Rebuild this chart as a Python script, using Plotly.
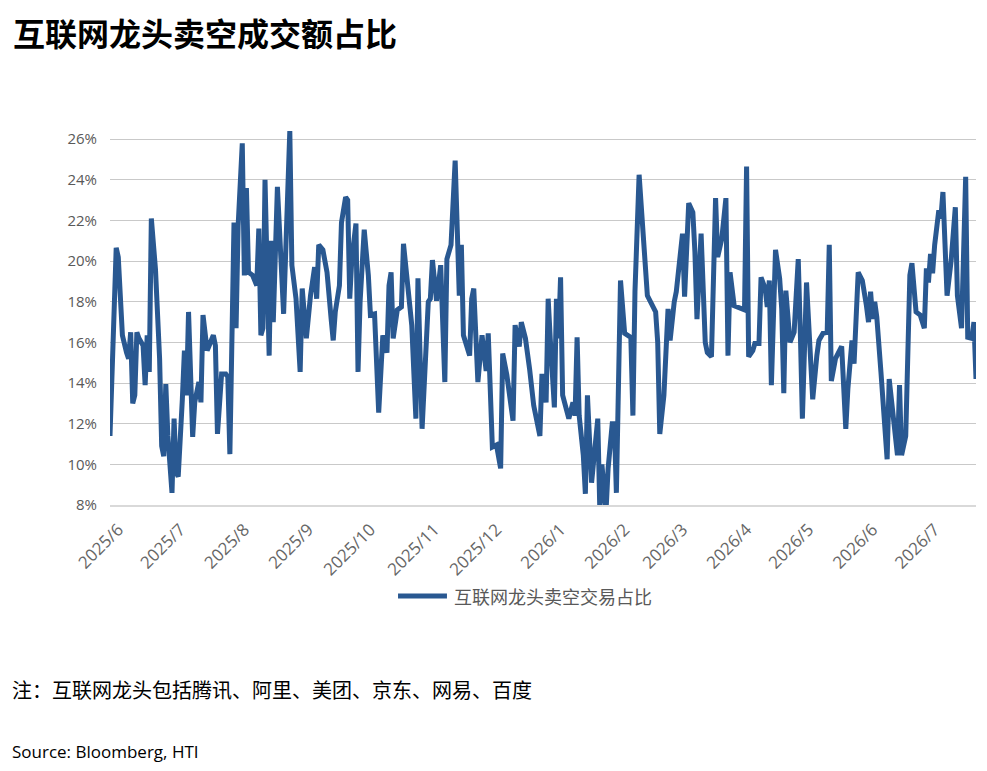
import pandas as pd
import plotly.graph_objects as go

# 数据：距 2025-06-01 的天数 与 卖空交易占比(%)
start_date = "2025-06-01"
days_from_start = [
    -4, -1, 0, 2, 4, 5, 6, 7, 8, 9, 10, 12, 13, 14, 15, 16, 18, 20, 21, 22, 23, 24, 26, 27, 28, 29,
    31, 32, 33, 34, 36, 37, 39, 40, 41, 43, 44, 46, 47, 48, 50, 52, 53, 54, 56, 57, 58, 60,
    61, 62, 63, 65, 67, 68, 69, 70, 71, 72, 73, 74, 75, 77, 79, 80, 83, 84, 86, 88, 89, 91,
    93, 95, 96, 97, 99, 101, 103, 104, 105, 107, 108, 110, 111, 112, 113, 115, 116, 117, 119, 121,
    122, 124, 126, 128, 130, 131, 132, 133, 135, 137, 138, 140, 142, 144, 145, 147, 150, 151, 152,
    154, 156, 158, 159, 161, 163, 165, 166, 167, 170, 171, 172, 174, 176, 178, 179, 181, 183,
    185, 186, 188, 191, 192, 194, 195, 197, 199, 201, 204, 205, 207, 208, 209, 211, 212, 213,
    214, 215, 218, 220, 221, 222, 223, 225, 226, 227, 229, 230, 232, 233, 234, 236, 237, 239,
    240, 241, 243, 245, 248, 249, 250, 252, 256, 260, 261, 262, 264, 266, 267, 269, 270, 273,
    274, 276, 278, 279, 280, 282, 284, 285, 287, 289, 290, 292, 294, 295, 296, 298, 303, 304,
    305, 307, 308, 310, 311, 313, 314, 315, 316, 318, 320, 321, 322, 323, 325, 327, 329, 330,
    331, 333, 334, 336, 338, 339, 341, 343, 344, 345, 347, 350, 352, 353, 355, 356, 358, 360,
    362, 363, 364, 365, 366, 367, 369, 372, 373, 375, 377, 378, 379, 381, 383, 384, 386, 388,
    390, 391, 392, 393, 394, 395, 397, 398, 399, 401, 403, 405, 406, 408, 410, 411, 413, 414, 415,
]
short_share_pct = [
    11.4, 20.65, 20.2, 16.35, 15.5, 15.2, 16.5, 13.0, 13.4, 16.5, 16.2, 15.85, 13.9, 16.35, 14.55,
    22.1, 19.6, 15.2, 10.9, 10.4, 13.95, 11.4, 8.6, 12.25, 9.6, 9.4,
    13.2, 15.6, 13.4, 17.5, 11.35, 13.05, 14.05, 13.05, 17.35, 15.6, 15.85, 16.35, 15.85, 11.5,
    14.45, 14.45, 14.3, 10.5, 21.9, 16.7, 21.75, 25.8,
    19.3, 23.6, 19.45, 19.3, 18.8, 21.6, 16.35, 16.7, 24.0, 19.8, 15.35, 21.0, 17.0, 23.65, 19.3,
    17.4, 26.4, 19.8, 18.15, 14.55, 18.65, 16.2,
    18.3, 19.7, 18.15, 20.8, 20.55, 19.45, 17.15, 16.1, 17.5, 18.8, 21.9, 23.15, 23.0, 18.15, 20.1,
    21.85, 14.55, 18.0, 21.55, 19.3,
    17.35, 17.4, 12.55, 16.35, 15.5, 18.8, 19.45, 16.2, 17.6, 17.75, 20.85, 18.65, 16.85, 12.25,
    19.15, 11.75, 18.0, 18.15, 20.05,
    18.05, 19.8, 14.05, 20.1, 20.8, 24.95, 18.3, 20.8, 16.35, 15.35, 18.15, 18.65, 14.05, 16.35,
    14.6, 16.45, 10.85, 10.95,
    9.8, 15.45, 14.4, 12.15, 16.85, 15.8, 17.0, 16.2, 14.7, 12.9, 11.4, 14.45, 13.05, 18.15, 16.2,
    12.8, 18.15, 16.2,
    19.2, 13.4, 12.25, 13.05, 12.4, 16.25, 12.4, 10.45, 8.55, 13.4, 9.1, 10.25, 12.25, 7.7, 10.0,
    7.7, 9.8, 12.0,
    12.0, 8.6, 19.05, 16.45, 16.25, 12.4, 18.5, 24.25, 18.3, 17.5, 16.0, 11.5, 13.4, 17.65, 16.1,
    18.0, 18.5, 21.35,
    18.25, 22.85, 22.4, 20.45, 17.15, 21.35, 16.0, 15.5, 15.3, 23.1, 20.2, 21.1, 23.1, 15.35, 19.45,
    17.8, 17.6, 24.65,
    15.3, 15.6, 15.95, 15.95, 19.2, 18.65, 17.75, 19.05, 13.9, 20.55, 19.15, 17.65, 13.5, 18.55,
    16.0, 16.5, 20.1, 16.5,
    12.25, 18.95, 17.15, 13.2, 15.35, 16.1, 16.45, 16.5, 20.8, 14.1, 15.2, 15.8, 11.75, 13.7, 16.1,
    14.95, 19.45, 19.05,
    17.8, 17.0, 18.5, 17.15, 18.0, 17.25, 14.55, 10.25, 14.2, 12.25, 10.45, 13.9, 10.45, 11.4, 19.3,
    19.9, 17.5, 17.35,
    16.7, 19.65, 18.95, 20.35, 19.4, 20.8, 22.5, 22.1, 23.4, 18.3, 20.05, 22.65, 18.3, 16.7, 24.15,
    16.25, 16.2, 17.0, 14.2,
]

month_ticks = pd.date_range("2025-06-01", "2026-07-01", freq="MS")
month_labels = [f"{d.year}/{d.month}" for d in month_ticks]
y_ticks = [8, 10, 12, 14, 16, 18, 20, 22, 24, 26]
y_labels = [f"{v}%" for v in y_ticks]

series_name = "互联网龙头卖空交易占比"
line_color = "#295891"
grey = "#595959"

dates = pd.Timestamp(start_date) + pd.to_timedelta(days_from_start, unit="D")

fig = go.Figure()
fig.add_trace(go.Scatter(
    x=dates,
    y=short_share_pct,
    mode="lines",
    name=series_name,
    line=dict(color=line_color, width=5),
    showlegend=False,
))

fig.update_xaxes(
    range=[dates[0], dates[-1]],
    tickvals=month_ticks,
    ticktext=month_labels,
    tickangle=-45,
    ticklabelstandoff=6,
    tickfont=dict(family="Open Sans", size=17, color="#666666"),
    showgrid=False,
    showline=True,
    linecolor="#d9d9d9",
    linewidth=2,
    ticks="",
)
fig.update_yaxes(
    range=[8, 26.6],
    tickvals=y_ticks,
    ticktext=y_labels,
    ticklabelstandoff=12,
    tickfont=dict(family="Open Sans", size=15, color=grey),
    showgrid=True,
    gridcolor="#c9c9c9",
    gridwidth=1,
    zeroline=False,
    ticks="",
)

# 图例（手动绘制，线段更长，与原图一致）
fig.add_shape(type="line", xref="paper", yref="paper",
              x0=0.3326, x1=0.3891, y0=-0.2406, y1=-0.2406,
              line=dict(color=line_color, width=5))

fig.update_layout(
    width=971,
    height=755,
    margin=dict(l=102, r=3, t=119, b=258),
    plot_bgcolor="white",
    paper_bgcolor="white",
    annotations=[
        dict(text=series_name, xref="paper", yref="paper",
             x=0.3949, y=-0.2406, xanchor="left", yanchor="middle", showarrow=False,
             font=dict(family="Noto Sans CJK SC", size=18, color=grey)),
        dict(text="<b>互联网龙头卖空成交额占比</b>", xref="paper", yref="paper",
             x=-0.1143, y=1.2507, xanchor="left", yanchor="middle", showarrow=False,
             font=dict(family="Noto Sans CJK SC", size=32, color="black")),
        dict(text="注：互联网龙头包括腾讯、阿里、美团、京东、网易、百度", xref="paper", yref="paper",
             x=-0.1155, y=-0.489, xanchor="left", yanchor="middle", showarrow=False,
             font=dict(family="Noto Sans CJK SC", size=20, color="black")),
        dict(text="Source: Bloomberg, HTI", xref="paper", yref="paper",
             x=-0.1155, y=-0.653, xanchor="left", yanchor="middle", showarrow=False,
             font=dict(family="Open Sans", size=17, color="black")),
    ],
)

fig.write_html("out.html")
